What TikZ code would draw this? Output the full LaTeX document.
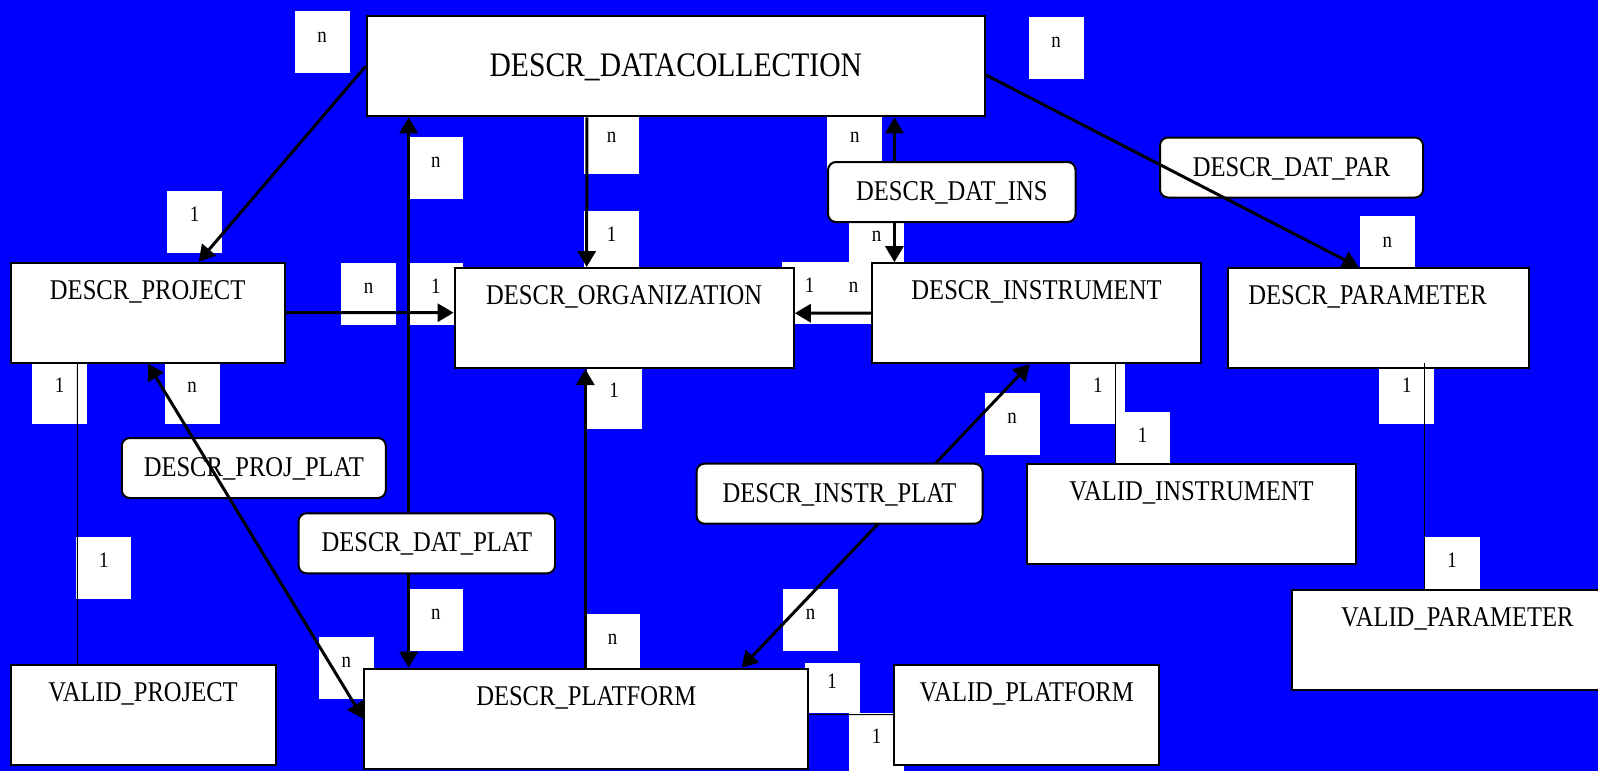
\documentclass[tikz,border=0pt]{standalone}
\usepackage{fontspec}
\setmainfont{Liberation Serif}[FakeStretch=0.86]
\usetikzlibrary{arrows.meta,calc}

\begin{document}
\begin{tikzpicture}[x = 0.5pt, y = -0.5pt, line width = 1pt,
				entity/.style = {rectangle, draw, fill = white, inner sep = 0pt,
				minimum height = 50pt, text height = 10pt, text depth = 23.5pt,
				font = \fontsize{14.3pt}{17pt}\selectfont},
				bigentity/.style = {entity, text height = 12pt, text depth = 2pt,
				font = \fontsize{17.2pt}{20pt}\selectfont},
				relation/.style = {rectangle, rounded corners = 4pt, draw, fill =
				white, inner sep = 0pt, minimum height = 30pt, text height = 10pt,
				text depth = 1.5pt, font = \fontsize{14.3pt}{17pt}\selectfont},
				card/.style = {rectangle, fill = white, inner sep = 0pt,
				minimum width = 27.5pt, minimum height = 31pt, text height = 7pt,
				text depth = 7pt, font = \fontsize{11pt}{13pt}\selectfont},
				arr/.style = {line width = 1.5pt,
				-{Triangle[length = 8pt, width = 9pt]}},
				twoway/.style = {line width = 1.5pt,
				{Triangle[length = 8pt, width = 9pt]}-{Triangle[length = 8pt, width = 9pt]}},
				link/.style = {line width = 0.5pt},
				]

				\useasboundingbox (0,0) rectangle (1598,771);
				\clip (0,0) rectangle (1598,771);
				\fill [blue] (0,0) rectangle (1598,771);

				\node [card] (c_1) at (322,42) {n};
				\node [card] (c_2) at (1056,47.5) {n};
				\node [card] (c_3) at (194.5,221.5) {1};
				\node [card] (c_4) at (435.8,167.8) {n};
				\node [card] (c_5) at (611.5,142.8) {n};
				\node [card] (c_6) at (611.5,241.8) {1};
				\node [card] (c_7) at (854.8,142.8) {n};
				\node [card] (c_8) at (876.5,241.5) {n};
				\node [card] (c_10) at (853.5,292.5) {n};
				\node [card] (c_9) at (809.5,292.5) {1};
				\node [card] (c_11) at (368.5,293.8) {n};
				\node [card] (c_12) at (435.8,293.5) {1};
				\node [card] (c_13) at (1387.3,247.2) {n};
				\node [card] (c_14) at (59.5,392.8) {1};
				\node [card] (c_15) at (192.2,392.8) {n};
				\node [card] (c_16) at (103.9,567.8) {1};
				\node [card] (c_17) at (435.9,619.5) {n};
				\node [card] (c_18) at (346.3,667.8) {n};
				\node [card] (c_19) at (614.1,397.8) {1};
				\node [card] (c_20) at (612.7,644.5) {n};
				\node [card] (c_21) at (810.7,619.5) {n};
				\node [card] (c_22) at (1012.2,423.5) {n};
				\node [card] (c_23) at (1097.8,392.8) {1};
				\node [card] (c_24) at (1142.5,442.8) {1};
				\node [card] (c_25) at (1406.8,392.8) {1};
				\node [card] (c_26) at (1452,567.8) {1};
				\node [card, minimum height = 25pt] (c_27) at (832,688.3) {1};
				\node [card] (c_28) at (876.5,743.8) {1};

				\node [bigentity, minimum width = 309.2pt] (e_1) at (675.8,66.3) {DESCR\_DATACOLLECTION};
				\node [entity, minimum width = 137pt] (e_2) at (147.7,312.7) {DESCR\_PROJECT};
				\node [entity, minimum width = 169.6pt] (e_3) at (624.2,318) {DESCR\_ORGANIZATION};
				\node [entity, minimum width = 164.5pt] (e_4) at (1036.5,313.2) {DESCR\_INSTRUMENT};
				\node [entity, minimum width = 150.5pt] (e_5) at (1378.5,318) {DESCR\_PARAMETER\hspace*{11pt}};
				\node [entity, minimum width = 132.5pt] (e_6) at (143,714.8) {VALID\_PROJECT};
				\node [entity, minimum width = 164.5pt] (e_7) at (1191.5,514) {VALID\_INSTRUMENT};
				\node [entity, minimum width = 165pt] (e_8) at (1457.3,639.7) {VALID\_PARAMETER};
				\node [entity, minimum width = 222pt] (e_9) at (586.3,718.7) {DESCR\_PLATFORM};
				\node [entity, minimum width = 132.3pt] (e_10) at (1026.7,714.7) {VALID\_PLATFORM};

				\node [relation, minimum width = 132pt] (r_1) at (253.8,468) {DESCR\_PROJ\_PLAT};
				\node [relation, minimum width = 131.5pt] (r_2) at (1291.5,167.5) {DESCR\_DAT\_PAR};
				\node [relation, minimum width = 123.75pt] (r_3) at (951.8,192) {DESCR\_DAT\_INS};
				\node [relation, minimum width = 128.25pt] (r_4) at (426.8,543.3) {DESCR\_DAT\_PLAT};

				\draw [arr] (e_1.west) -- ($(e_2.north)+(51,0)$);
				\draw [arr] ($(e_1.south)+(-89,0)$) -- ($(e_3.north)+(-37.5,0)$);
				\draw [arr] ($(r_4.north)+(-18.1,0)$) -- ($(e_1.south)+(-267.1,0)$);
				\draw [arr] ($(r_4.south)+(-18.1,0)$) -- ($(e_9.north)+(-177.6,0)$);
				\draw [arr] (e_2.east) -- ($(e_3.west)+(0,-5.3)$);
				\draw [arr] (e_4.west) -- ($(e_3.east)+(0,-4.8)$);
				\draw [arr] ($(r_3.north)+(-57.4,0)$) -- ($(e_1.south)+(218.6,0)$);
				\draw [arr] ($(r_3.south)+(-57.4,0)$) -- ($(e_4.north)+(-142.1,0)$);
				\draw [arr] ($(e_1.east)+(0,8.7)$) -- ($(e_5.north)+(-20,0)$);
				\draw [arr] ($(e_9.north)+(-1,0)$) -- ($(e_3.south)+(-38.9,0)$);
				\draw [twoway] (e_2.south) -- (e_9.west);
				\draw [twoway] ($(e_9.north)+(155.1,0)$) -- ($(e_4.south)+(-6.8,0)$);
				\draw [link] ($(e_2.south)+(-70.4,0)$) -- ($(e_6.north)+(-65.7,0)$);
				\draw [link] ($(e_4.south)+(78.5,0)$) -- ($(e_7.north)+(-76.5,0)$);
				\draw [link] ($(e_5.south)+(46,-6)$) -- ($(e_8.north)+(-32.8,0)$);
				\draw [link] ($(e_9.east)+(0,-4.4)$) -- (e_10.west);

				\node [relation, minimum width = 143pt] (r_5) at (839.5,493.7) {DESCR\_INSTR\_PLAT};
			\end{tikzpicture}
\end{document}
